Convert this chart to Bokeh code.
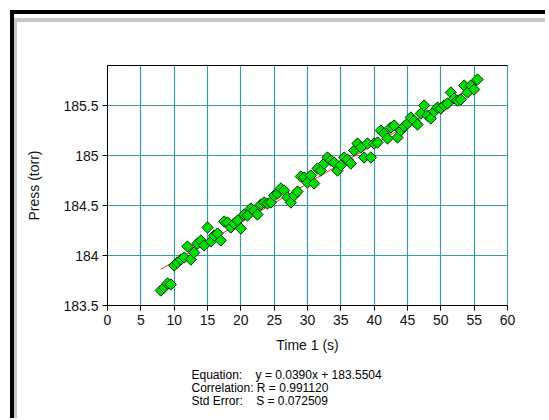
import math
from bokeh.plotting import figure
from bokeh.models import FixedTicker, Range1d, LinearAxis, Title
from bokeh.layouts import column
from bokeh.embed import file_html
from bokeh.resources import INLINE

# ---- data ----
time_s = [8.0, 8.5, 9.0, 9.5, 10.0, 10.5, 11.0, 11.5, 12.0, 12.5,
          13.0, 13.5, 14.0, 14.5, 15.0, 15.5, 16.0, 16.5, 17.0, 17.5,
          18.0, 18.5, 19.0, 19.5, 20.0, 20.5, 21.0, 21.5, 22.0, 22.5,
          23.0, 23.5, 24.0, 24.5, 25.0, 25.5, 26.0, 26.5, 27.0, 27.5,
          28.0, 28.5, 29.0, 29.5, 30.0, 30.5, 31.0, 31.5, 32.0, 32.5,
          33.0, 33.5, 34.0, 34.5, 35.0, 35.5, 36.0, 36.5, 37.0, 37.5,
          38.0, 38.5, 39.0, 39.5, 40.0, 40.5, 41.0, 41.5, 42.0, 42.5,
          43.0, 43.5, 44.0, 44.5, 45.0, 45.5, 46.0, 46.5, 47.0, 47.5,
          48.0, 48.5, 49.0, 49.5, 50.0, 50.5, 51.0, 51.5, 52.0, 52.5,
          53.0, 53.5, 54.0, 54.5, 55.0, 55.5]
press_torr = [183.65, 183.68, 183.72, 183.71, 183.90, 183.93, 183.96, 183.98, 184.09, 183.96,
              184.03, 184.12, 184.15, 184.10, 184.28, 184.14, 184.20, 184.22, 184.15, 184.34,
              184.33, 184.28, 184.32, 184.35, 184.27, 184.41, 184.40, 184.47, 184.45, 184.41,
              184.51, 184.53, 184.52, 184.53, 184.60, 184.62, 184.67, 184.65, 184.58, 184.53,
              184.60, 184.64, 184.79, 184.78, 184.73, 184.80, 184.72, 184.87, 184.85, 184.92,
              184.98, 184.95, 184.93, 184.85, 184.90, 184.98, 184.96, 184.92, 185.05, 185.12,
              185.08, 184.98, 185.12, 184.98, 185.12, 185.13, 185.25, 185.22, 185.17, 185.28,
              185.30, 185.18, 185.25, 185.29, 185.32, 185.38, 185.35, 185.31, 185.42, 185.50,
              185.40, 185.37, 185.44, 185.48, 185.47, 185.50, 185.52, 185.63, 185.57, 185.55,
              185.56, 185.70, 185.63, 185.70, 185.66, 185.76]
fit_slope = 0.0390
fit_intercept = 183.5504
x_ticks = [0, 5, 10, 15, 20, 25, 30, 35, 40, 45, 50, 55, 60]
y_ticks = [183.5, 184.0, 184.5, 185.0, 185.5]
y_tick_labels = ["183.5", "184", "184.5", "185", "185.5"]
eq_names = ["Equation:", "Correlation:", "Std Error:"]
eq_values = ["y = 0.0390x + 183.5504", "R = 0.991120", "S = 0.072509"]
eq_pad = ["\u00a0\u00a0\u00a0\u00a0", "\u00a0", "\u00a0\u00a0\u00a0\u00a0"]
x_title = "Time 1 (s)"
y_title = "Press (torr)"

GRID = "#3a9a9a"
FONT = "Liberation Sans"

p = figure(width=528, height=396,
           x_range=Range1d(0, 60), y_range=Range1d(183.5, 185.9),
           output_backend="svg", toolbar_location=None,
           min_border_left=90, min_border_right=38,
           min_border_top=43, min_border_bottom=113,
           background_fill_color="white", border_fill_color="white")
p.outline_line_color = GRID
p.outline_line_width = 1

# axes
for ax in (p.xaxis[0], p.yaxis[0]):
    ax.axis_line_color = "black"
    ax.major_tick_line_color = "black"
    ax.major_tick_out = 5
    ax.major_tick_in = 0
    ax.minor_tick_line_color = None
    ax.major_label_text_font = FONT
    ax.major_label_text_font_size = "14px"
    ax.major_label_text_color = "#111111"
    ax.axis_label_text_font = FONT
    ax.axis_label_text_font_size = "14px"
    ax.axis_label_text_font_style = "normal"
    ax.axis_label_text_color = "#111111"

p.xaxis.ticker = FixedTicker(ticks=x_ticks)
p.xaxis.axis_label = x_title
p.xaxis.major_label_standoff = 4
p.xaxis.axis_label_standoff = 9

p.yaxis.ticker = FixedTicker(ticks=y_ticks)
p.yaxis.major_label_overrides = {t: l for t, l in zip(y_ticks, y_tick_labels)}
p.yaxis.axis_label = y_title
p.yaxis.major_label_standoff = 4
p.yaxis.axis_label_standoff = 18

top_axis = LinearAxis(axis_line_color="black", major_tick_line_color=None,
                      minor_tick_line_color=None, major_label_text_font_size="0px",
                      ticker=FixedTicker(ticks=[]))
p.add_layout(top_axis, "above")

# grid
p.xgrid.ticker = FixedTicker(ticks=x_ticks)
p.ygrid.ticker = FixedTicker(ticks=y_ticks)
p.xgrid.grid_line_color = GRID
p.ygrid.grid_line_color = GRID
p.xgrid.grid_line_alpha = 1.0
p.ygrid.grid_line_alpha = 1.0
p.xgrid.grid_line_width = 1.2
p.ygrid.grid_line_width = 1.2

# regression line
x0, x1 = min(time_s), max(time_s)
p.line([x0, x1], [fit_slope * x0 + fit_intercept, fit_slope * x1 + fit_intercept],
       line_color="#e03030", line_width=1)

# data points (diamonds)
p.scatter(time_s, press_torr, marker="square", angle=math.pi / 4, size=8,
          fill_color="#00dd00", line_color="#0a300a", line_width=1)

# ---- fit statistics text (one multi-line title below the x axis) ----
stats_text = "\n".join(n + pad + v for n, pad, v in zip(eq_names, eq_pad, eq_values))
p.add_layout(Title(text=stats_text, align="left", offset=84,
                   text_font=FONT, text_font_size="12px",
                   text_font_style="normal", text_color="#000000",
                   standoff=21, text_line_height=0.93),
             "below")

# window frame: grey inner band as border, black outer band as outer shadows
root = column(p, margin=(18, 0, 0, 14),
              styles={"border-left": "3px solid #c8c8c8", "border-top": "4px solid #c8c8c8",
                      "background-color": "white",
                      "box-shadow": ("0 -4px 0 0 white, -4px -8px 0 0 black, "
                                     "-4px 0 0 0 black, 0 -8px 0 0 black")})

open("out.html", "w").write(file_html(root, INLINE))
